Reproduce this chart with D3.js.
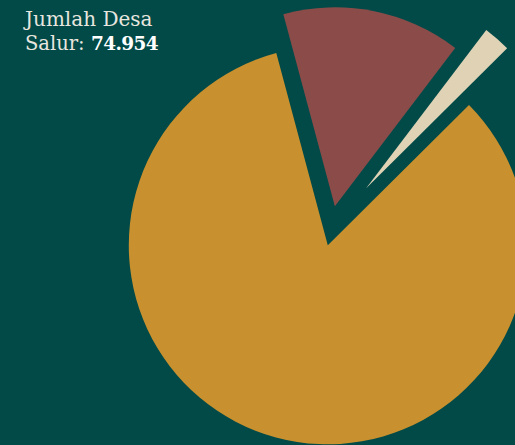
<!DOCTYPE html>
<html>
<head>
<meta charset="utf-8">
<script src="https://cdn.jsdelivr.net/npm/d3@7"></script>
<style>
    html, body { margin: 0; padding: 0; background: #014a48; overflow: hidden; }
    .label { font-family: "DejaVu Serif", serif; fill: #e9e6df; }
</style>
</head>
<body>
<div id="pie-chart"></div>
<script>
// Slice values (sum = total shown in the title)
let categories = ["Kategori 1", "Kategori 2", "Kategori 3"];
let values = [62420, 10870, 1664];
let total = 74954;

let colors = ["#c8902e", "#8b4c49", "#dfd2b5"];
let explode = [20, 20, 50];

let width = 515, height = 445;
let radius = 199;
let center = {x: 333, y: 226};
let start = 45.2 * Math.PI / 180;

let svg = d3.select("#pie-chart").append("svg")
    .attr("width", width)
    .attr("height", height);

svg.append("rect")
    .attr("width", width)
    .attr("height", height)
    .attr("fill", "#014a48");

let pie = d3.pie()
    .sort(null)
    .startAngle(start)
    .endAngle(start + 2 * Math.PI)
    .value(d => d);

let arc = d3.arc()
    .innerRadius(0)
    .outerRadius(radius);

let g = svg.append("g")
    .attr("transform", "translate(" + center.x + "," + center.y + ")");

g.selectAll(".slice")
    .data(pie(values))
    .enter()
    .append("path")
    .attr("class", "slice")
    .attr("d", arc)
    .attr("fill", (d, i) => colors[i])
    .attr("transform", (d, i) => {
        let mid = (d.startAngle + d.endAngle) / 2;
        let dx = Math.sin(mid) * explode[i] - (i === 1 ? 2 : 0);
        return "translate(" + dx + "," + (-Math.cos(mid) * explode[i]) + ")";
    });

// Title text
let fmt = d3.formatLocale({decimal: ",", thousands: ".", grouping: [3]}).format(",");

svg.append("text")
    .attr("class", "label")
    .attr("x", 25)
    .attr("y", 26)
    .style("font-size", "20px")
    .text("Jumlah Desa");

let line2 = svg.append("text")
    .attr("class", "label")
    .attr("x", 25)
    .attr("y", 50)
    .style("font-size", "19.5px");

line2.append("tspan").text("Salur: ");
line2.append("tspan")
    .style("font-weight", "bold")
    .style("font-size", "18.5px")
    .style("letter-spacing", "-0.6px")
    .attr("fill", "#ffffff")
    .text(fmt(total));
</script>
</body>
</html>
